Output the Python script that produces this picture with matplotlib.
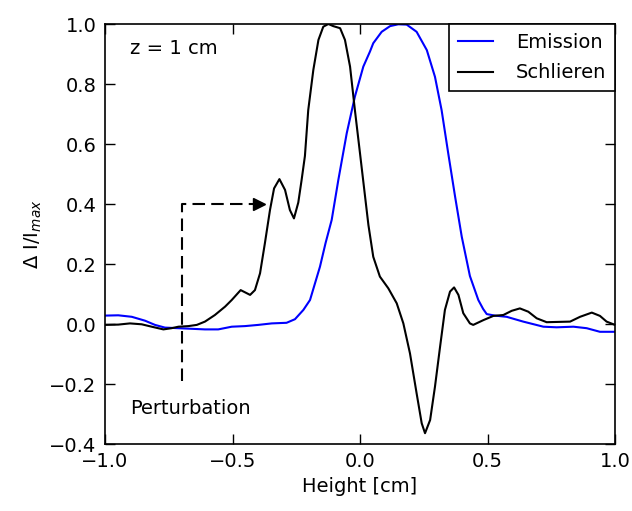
import matplotlib
matplotlib.use("Agg")
import matplotlib.pyplot as plt

# Emission (blue)
em_x = [-1.0, -0.948, -0.895, -0.843, -0.804, -0.765, -0.712, -0.66, -0.608, -0.556,
        -0.503, -0.451, -0.399, -0.346, -0.288, -0.255, -0.222, -0.196, -0.157, -0.135,
        -0.111, -0.085, -0.052, -0.02, 0.013, 0.039, 0.052, 0.085, 0.118, 0.15,
        0.183, 0.222, 0.262, 0.294, 0.32, 0.346, 0.373, 0.399, 0.431, 0.464,
        0.483, 0.497, 0.529, 0.575, 0.64, 0.719, 0.771, 0.837, 0.889, 0.941, 1.0]
em_y = [0.028, 0.029, 0.024, 0.011, -0.003, -0.012, -0.014, -0.016, -0.018, -0.018,
        -0.009, -0.007, -0.003, 0.002, 0.004, 0.016, 0.047, 0.08, 0.191, 0.27,
        0.347, 0.48, 0.636, 0.758, 0.858, 0.908, 0.936, 0.974, 0.993, 0.999,
        0.998, 0.974, 0.913, 0.824, 0.713, 0.569, 0.424, 0.291, 0.16, 0.08,
        0.05, 0.033, 0.028, 0.024, 0.008, -0.009, -0.011, -0.009, -0.014, -0.026, -0.026]

# Schlieren (black)
sc_x = [-1.0, -0.948, -0.902, -0.856, -0.817, -0.771, -0.739, -0.712, -0.673, -0.64,
        -0.608, -0.569, -0.529, -0.503, -0.468, -0.431, -0.412, -0.392, -0.373, -0.353,
        -0.337, -0.316, -0.294, -0.275, -0.259, -0.242, -0.229, -0.216, -0.203, -0.183,
        -0.163, -0.144, -0.124, -0.105, -0.078, -0.059, -0.039, -0.02, 0.0, 0.02,
        0.033, 0.052, 0.078, 0.111, 0.144, 0.17, 0.196, 0.222, 0.242, 0.255,
        0.275, 0.294, 0.314, 0.333, 0.353, 0.369, 0.386, 0.405, 0.431, 0.444,
        0.484, 0.523, 0.562, 0.595, 0.627, 0.66, 0.693, 0.732, 0.824, 0.863,
        0.909, 0.941, 0.967, 1.0]
sc_y = [-0.003, -0.002, 0.002, -0.001, -0.009, -0.018, -0.014, -0.009, -0.007, -0.003,
        0.008, 0.03, 0.058, 0.08, 0.113, 0.097, 0.113, 0.169, 0.269, 0.38,
        0.452, 0.483, 0.447, 0.38, 0.352, 0.405, 0.48, 0.56, 0.713, 0.847,
        0.947, 0.991, 1.0, 0.993, 0.986, 0.947, 0.858, 0.713, 0.569, 0.424,
        0.33, 0.224, 0.158, 0.119, 0.069, 0.002, -0.098, -0.231, -0.331, -0.364,
        -0.32, -0.209, -0.076, 0.047, 0.108, 0.122, 0.097, 0.036, 0.002, -0.003,
        0.013, 0.027, 0.03, 0.044, 0.052, 0.041, 0.019, 0.006, 0.008, 0.024,
        0.038, 0.027, 0.008, -0.003]

xticks = [-1.0, -0.5, 0.0, 0.5, 1.0]
yticks = [-0.4, -0.2, 0.0, 0.2, 0.4, 0.6, 0.8, 1.0]

plt.rcParams['mathtext.fontset'] = 'dejavusans'
plt.rcParams['font.family'] = ['DejaVu Sans']

fig = plt.figure(figsize=(6.32, 5.11), dpi=100)
ax = fig.add_axes([105/632, 1-444/511, 510/632, 420/511])

ax.plot(em_x, em_y, color='#0000ff', lw=1.5, label='Emission')
ax.plot(sc_x, sc_y, color='black', lw=1.5, label='Schlieren')

# perturbation annotation
ax.plot([-0.7, -0.7, -0.42], [-0.19, 0.4, 0.4], color='black', lw=1.5,
        linestyle=(0, (6, 3)))
ax.plot([-0.395], [0.4], marker='>', color='black', markersize=9, linestyle='none')

ax.text(-0.9, 0.92, 'z = 1 cm', fontsize=14, va='center', ha='left')
ax.text(-0.9, -0.28, 'Perturbation', fontsize=14, va='center', ha='left')

ax.set_xlim(-1, 1)
ax.set_ylim(-0.4, 1.0)
ax.set_xticks(xticks)
ax.set_yticks(yticks)
ax.set_xticklabels(['\N{MINUS SIGN}1.0', '\N{MINUS SIGN}0.5', '0.0', '0.5', '1.0'])
ax.set_yticklabels(['\N{MINUS SIGN}0.4', '\N{MINUS SIGN}0.2', '0.0', '0.2', '0.4', '0.6', '0.8', '1.0'])
ax.tick_params(direction='in', top=True, right=True, length=7, width=1, labelsize=14, pad=6)
for s in ax.spines.values():
    s.set_linewidth(1.2)

ax.set_xlabel('Height [cm]', fontsize=14)
ax.set_ylabel(r'$\Delta$ I/I$_{max}$', fontsize=14)

leg = ax.legend(loc='upper right', fontsize=14, fancybox=False, framealpha=1,
                edgecolor='black', borderaxespad=0, handlelength=1.8,
                handletextpad=1.2, labelspacing=0.6, borderpad=0.45)
leg.get_frame().set_linewidth(1.2)

fig.savefig('out.png', dpi=100)
